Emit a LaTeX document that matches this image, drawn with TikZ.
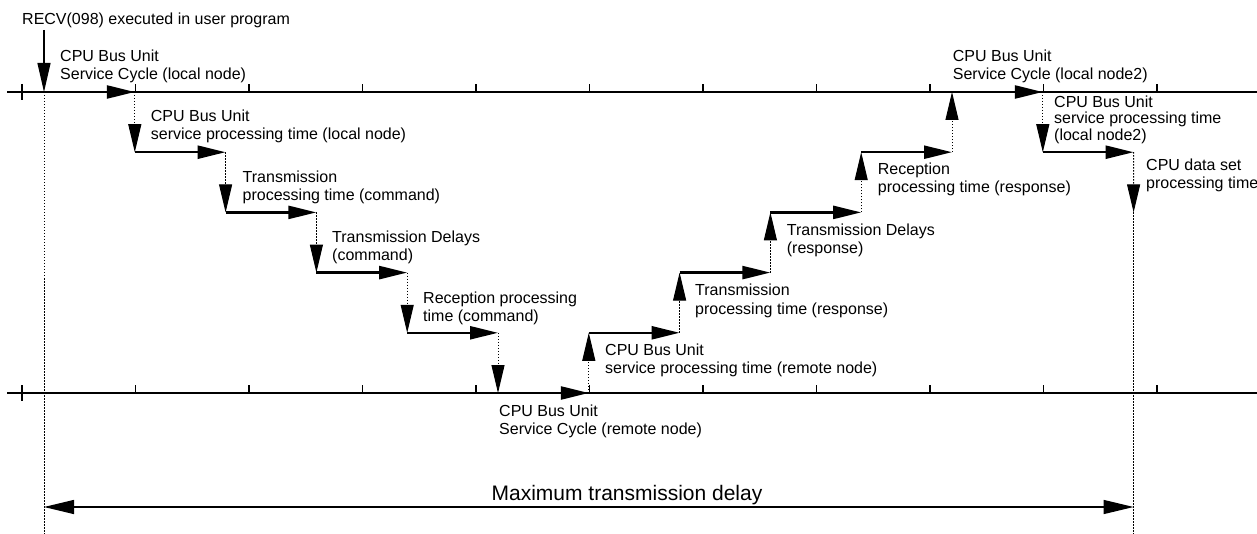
\documentclass[tikz,border=0pt]{standalone}
\usepackage{fontspec}
\setmainfont{Liberation Sans}
\usetikzlibrary{arrows.meta}
\newcommand\mylines[1]{\begin{tabular}[t]{@{}l@{}}#1\end{tabular}}
\begin{document}
\begin{tikzpicture}[x=1pt,y=-1pt,
  axis/.style={line width=1.2pt},
  tickmark/.style={line width=1.2pt},
  stepline/.style={line width=2.4pt, -{Triangle[length=28pt,width=13pt]}},
  vdot/.style={line width=1pt, dash pattern=on 1.5pt off 1.5pt, -{Triangle[length=28pt,width=13pt]}},
  guide/.style={line width=1pt, dash pattern=on 1.5pt off 1.5pt},
  lbl/.style={anchor=base west, inner sep=0pt, font=\fontsize{16}{18}\selectfont},
]
\useasboundingbox (0,0) rectangle (1257,534);
% axes
\coordinate (tl) at (7,92);  \coordinate (tr) at (1257,92);
\coordinate (bl) at (7,393); \coordinate (br) at (1257,393);
\draw[axis] (tl) -- (tr);
\draw[axis] (bl) -- (br);
\foreach \y in {92,393} {
  \draw[tickmark] (22,\y-8) -- (22,\y+8);
  \foreach \i in {0,...,9} \draw[tickmark] ({135.5+113.5*\i},\y) -- ({135.5+113.5*\i},\y-8);
}
% steps
\foreach \k/\l in {0/0,1/1,2/2,3/3,4/4,5/5,6/4,7/3,8/2,9/1,10/0,11/1} {
  \coordinate (a\k) at ({44+90.8*\k},{92+60.2*\l});
  \coordinate (b\k) at ({44+90.8*(\k+1)},{92+60.2*\l});
}
\foreach \k in {0,...,11} \draw[stepline] (a\k) -- (b\k);
\foreach \k [evaluate=\k as \n using int(\k+1)] in {0,...,10} \draw[vdot] (b\k) -- (a\n);
\coordinate (c12) at (1133.6,212.4);
\coordinate (d12) at (1133.6,534);
\draw[vdot] (b11) -- (c12);
\draw[guide] (c12) -- (d12);
% start guide and RECV arrow
\coordinate (g1) at (44,534);
\coordinate (r0) at (44,30);
\draw[guide] (a0) -- (g1);
\draw[line width=1.2pt, -{Triangle[length=29pt,width=13pt]}] (r0) -- (a0);
% maximum delay arrow
\coordinate (m0) at (44,507);
\coordinate (m1) at (1133.6,507);
\draw[line width=1.3pt, {Triangle[length=30pt,width=14pt]}-{Triangle[length=30pt,width=14pt]}] (m0) -- (m1);
% labels
\node[lbl] (t0) at (22,25) {RECV(098) executed in user program};
\node[lbl] (t1) at (60,62) {\mylines{CPU Bus Unit\\Service Cycle (local node)}};
\node[lbl] (t2) at (150.7,122) {\mylines{CPU Bus Unit\\service processing time (local node)}};
\node[lbl] (t3) at (242.5,182.7) {\mylines{Transmission\\processing time (command)}};
\node[lbl] (t4) at (332,242.7) {\mylines{Transmission Delays\\(command)}};
\node[lbl] (t5) at (423,304) {\mylines{Reception processing\\time (command)}};
\node[lbl] (t6) at (605,355.7) {\mylines{CPU Bus Unit\\service processing time (remote node)}};
\node[lbl] (t7) at (499,416.7) {\mylines{CPU Bus Unit\\Service Cycle (remote node)}};
\node[lbl] (t8) at (695,296) {\mylines{Transmission\\processing time (response)}};
\node[lbl] (t9) at (786.7,235.7) {\mylines{Transmission Delays\\(response)}};
\node[lbl] (t10) at (877.7,174.3) {\mylines{Reception\\processing time (response)}};
\node[lbl] (t11) at (952.7,61.7) {\mylines{CPU Bus Unit\\Service Cycle (local node2)}};
\node[lbl, font=\fontsize{16}{16}\selectfont] (t12) at (1054,107.3) {\mylines{CPU Bus Unit\\service processing time\\(local node2)}};
\node[lbl] (t13) at (1146,171) {\mylines{CPU data set\\processing time}};
\node[anchor=base, inner sep=0pt, font=\fontsize{21}{24}\selectfont] (t14) at (627,500) {Maximum transmission delay};
\end{tikzpicture}
\end{document}
